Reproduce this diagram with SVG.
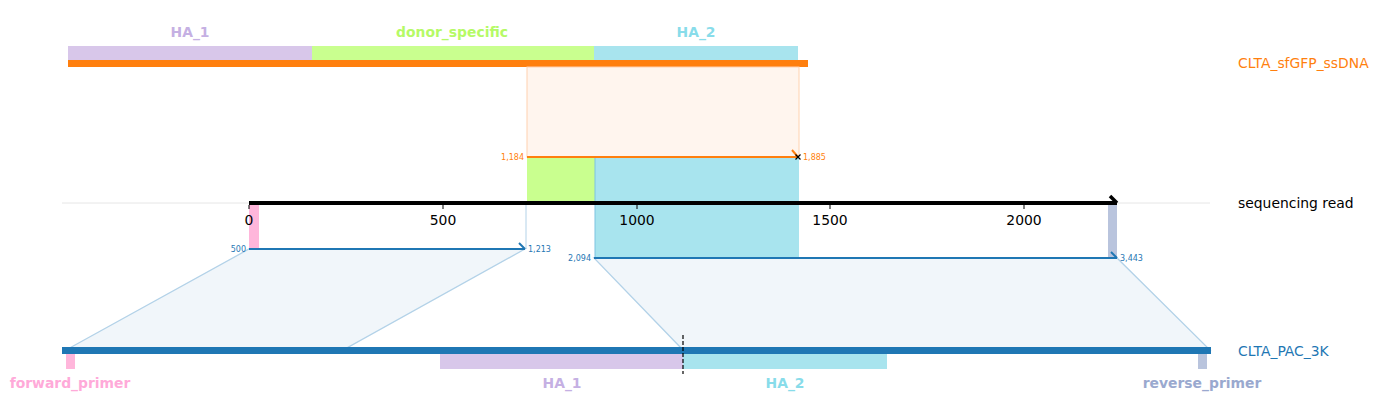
<svg xmlns="http://www.w3.org/2000/svg" width="1381" height="415" viewBox="0 0 1381 415">
<style>
text{font-family:"DejaVu Sans",sans-serif}
.flab{font-size:13.9px;font-weight:bold;text-anchor:middle}
.rlab{font-size:13.9px}
.tick{font-size:13.9px;text-anchor:middle;fill:#000}
.sm{font-size:8px}
.trap{fill:#f1f6fa;stroke:#b3d2e8;stroke-width:1.3}
</style>
<rect width="1381" height="415" fill="#fff"/>
<line x1="62" y1="203" x2="1210" y2="203" stroke="#e6e6e6" stroke-width="1"/>

<g id="connectors">
<polygon class="trap" points="249,249 525,249 343,350 66,350"/>
<polygon class="trap" points="594,258 1117,258 1210,350 683,350"/>
</g>

<g id="donor">
<rect x="68" y="46" width="244" height="15" fill="#d8c7ea"/>
<rect x="312" y="46" width="282" height="15" fill="#c9ff8f"/>
<rect x="594" y="46" width="204" height="15" fill="#a8e4ee"/>
<rect x="68" y="60" width="740" height="7" fill="#ff7f0e"/>
<text class="flab" x="190" y="37" fill="#c5b0e3">HA_1</text>
<text class="flab" x="452" y="37" fill="#b5fa66">donor_specific</text>
<text class="flab" x="696" y="37" fill="#88dcea">HA_2</text>
<text class="rlab" x="1238" y="68" fill="#ff7f0e">CLTA_sfGFP_ssDNA</text>
</g>

<g id="donor-match">
<rect x="527" y="67" width="272" height="90" fill="#fff5ee" stroke="#ffd2b0" stroke-width="1"/>
<rect x="527" y="157" width="68" height="46" fill="#c9ff8f"/>
<rect x="595" y="157" width="204" height="101" fill="#a8e4ee"/>
<line x1="595" y1="157" x2="595" y2="258" stroke="#7cc3e0" stroke-width="1"/>
</g>

<g id="read-match">
<rect x="249" y="203" width="10" height="46" fill="#ffb6db"/>
<rect x="1108" y="203" width="9" height="55" fill="#b9c4dd"/>
<line x1="526" y1="205" x2="526" y2="249" stroke="#b3d2e8" stroke-width="1"/>
</g>

<g id="read">
<line x1="249" y1="203" x2="1117" y2="203" stroke="#000" stroke-width="4"/>
<path d="M1110,196 L1117,203" stroke="#000" stroke-width="3.5" fill="none"/>
<g stroke="#000" stroke-width="1">
<line x1="249" y1="205" x2="249" y2="209"/>
<line x1="443" y1="205" x2="443" y2="209"/>
<line x1="637" y1="205" x2="637" y2="209"/>
<line x1="830" y1="205" x2="830" y2="209"/>
<line x1="1024" y1="205" x2="1024" y2="209"/>
</g>
<text class="tick" x="249" y="225">0</text>
<text class="tick" x="443" y="225">500</text>
<text class="tick" x="637" y="225">1000</text>
<text class="tick" x="830" y="225">1500</text>
<text class="tick" x="1024" y="225">2000</text>
<text class="rlab" x="1238" y="208" fill="#000">sequencing read</text>
</g>

<g id="alignments">
<line x1="527" y1="157" x2="798" y2="157" stroke="#ff7f0e" stroke-width="2"/>
<path d="M792,150 L798,157" stroke="#ff7f0e" stroke-width="2" fill="none"/>
<path d="M795.5,154.5 L800.5,159.5 M800.5,154.5 L795.5,159.5" stroke="#000" stroke-width="1.2"/>
<text class="sm" x="524" y="159.5" text-anchor="end" fill="#ff7f0e">1,184</text>
<text class="sm" x="803" y="159.5" fill="#ff7f0e">1,885</text>
<line x1="249" y1="249" x2="525" y2="249" stroke="#1f77b4" stroke-width="2"/>
<path d="M519,243 L525,249" stroke="#1f77b4" stroke-width="2" fill="none"/>
<line x1="594" y1="258" x2="1117" y2="258" stroke="#1f77b4" stroke-width="2"/>
<path d="M1111,252 L1117,258" stroke="#1f77b4" stroke-width="2" fill="none"/>
<text class="sm" x="246" y="252" text-anchor="end" fill="#1f77b4">500</text>
<text class="sm" x="528" y="252" fill="#1f77b4">1,213</text>
<text class="sm" x="591" y="261" text-anchor="end" fill="#1f77b4">2,094</text>
<text class="sm" x="1120" y="261" fill="#1f77b4">3,443</text>
</g>

<g id="reference">
<rect x="62" y="347" width="1149" height="7" fill="#1f77b4"/>
<rect x="66" y="354" width="9" height="15" fill="#ffb6db"/>
<rect x="440" y="354" width="243" height="15" fill="#d8c7ea"/>
<rect x="683" y="354" width="204" height="15" fill="#a8e4ee"/>
<rect x="1198" y="354" width="9" height="15" fill="#b9c4dd"/>
<line x1="683" y1="335" x2="683" y2="374" stroke="#000" stroke-width="1.2" stroke-dasharray="4,2"/>
<text class="flab" x="70" y="388" fill="#ffaad9">forward_primer</text>
<text class="flab" x="562" y="388" fill="#c5b0e3">HA_1</text>
<text class="flab" x="785" y="388" fill="#88dcea">HA_2</text>
<text class="flab" x="1202" y="388" fill="#9aa9cf">reverse_primer</text>
<text class="rlab" x="1238" y="356" fill="#1f77b4">CLTA_PAC_3K</text>
</g>
</svg>
